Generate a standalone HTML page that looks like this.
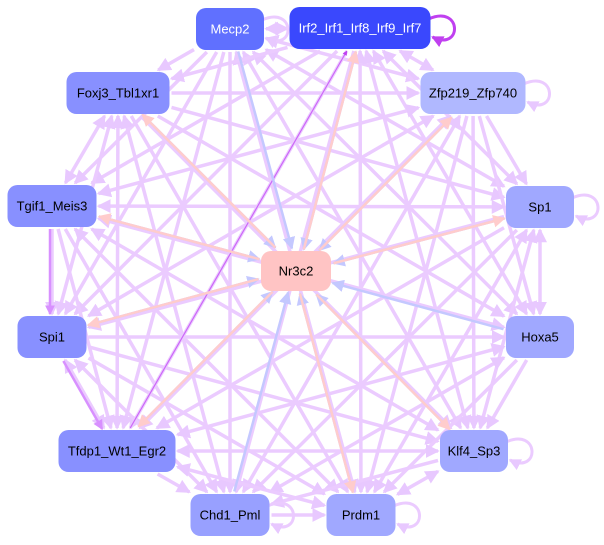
<!DOCTYPE html>
<html><head><meta charset="utf-8"><style>
html,body{margin:0;padding:0;background:#fff;width:604px;height:545px;overflow:hidden}
svg{display:block}
text{font-family:"Liberation Sans",Arial,sans-serif;font-size:13px}
</style></head><body>
<svg id="g" width="604" height="545" xmlns="http://www.w3.org/2000/svg">
<defs>
<marker id="mL" markerWidth="4" markerHeight="4" refX="3.5" refY="2" orient="auto" markerUnits="strokeWidth"><path d="M0,0L4,2L0,4z" fill="#e8c8ff"/></marker>
<marker id="mLs" markerWidth="4" markerHeight="4" refX="0.5" refY="2" orient="auto" markerUnits="strokeWidth"><path d="M4,0L0,2L4,4z" fill="#e8c8ff"/></marker>
<marker id="mB" markerWidth="5" markerHeight="5" refX="4.5" refY="2.5" orient="auto" markerUnits="strokeWidth"><path d="M0,0L5,2.5L0,5z" fill="#c4c8ff"/></marker>
<marker id="mS" markerWidth="5" markerHeight="5" refX="4.5" refY="2.5" orient="auto" markerUnits="strokeWidth"><path d="M0,0L5,2.5L0,5z" fill="#ffcccc"/></marker>
<marker id="mP" markerWidth="4" markerHeight="4" refX="3.5" refY="2" orient="auto" markerUnits="strokeWidth"><path d="M0,0L4,2L0,4z" fill="#c040f0"/></marker>
<marker id="mM" markerWidth="4" markerHeight="4" refX="3.5" refY="2" orient="auto" markerUnits="strokeWidth"><path d="M0,0L4,2L0,4z" fill="#d890ff"/></marker>
</defs>
<g id="edges"></g>
<g id="nodes"></g>
</svg>
<script>
var N={
Mecp2:[230,29,68,42,'#6070ff','#fff'],
Irf:[360,28,141,42,'#3a48fd','#fff','Irf2_Irf1_Irf8_Irf9_Irf7'],
Foxj3:[118,93,103,42,'#8890ff','#000','Foxj3_Tbl1xr1'],
Zfp:[473,93,105,42,'#b0b8ff','#000','Zfp219_Zfp740'],
Tgif1:[52,206,89,42,'#8890ff','#000','Tgif1_Meis3'],
Sp1:[540,207,68,42,'#a0a8ff','#000'],
Spi1:[52,337,69,42,'#8890ff','#000'],
Hoxa5:[540,337,68,42,'#a0a8ff','#000'],
Tfdp1:[117,451,117,42,'#8890ff','#000','Tfdp1_Wt1_Egr2'],
Klf4:[474,451,68,42,'#a0a8ff','#000','Klf4_Sp3'],
Chd1:[230,515,79,42,'#98a0ff','#000','Chd1_Pml'],
Prdm1:[361,515,69,42,'#a0a8ff','#000'],
Nr3c2:[296,271,70,40,'#ffc4c4','#000']
};
var NS='http://www.w3.org/2000/svg';
function el(t,a,p){var e=document.createElementNS(NS,t);for(var k in a)e.setAttribute(k,a[k]);p.appendChild(e);return e;}
var E=document.getElementById('edges'),G=document.getElementById('nodes');
function bd(n,dx,dy){var hw=n[2]/2+2,hh=n[3]/2+2;return Math.min(dx?hw/Math.abs(dx):1e9,dy?hh/Math.abs(dy):1e9);}
function edge(a,b,col,w,mk,off,mks){var A=N[a],B=N[b];var dx=B[0]-A[0],dy=B[1]-A[1];var L=Math.hypot(dx,dy);var ox=-dy/L*off,oy=dx/L*off;
var t1=bd(A,dx,dy),t2=bd(B,dx,dy);
var at={x1:A[0]+dx*t1+ox,y1:A[1]+dy*t1+oy,x2:B[0]-dx*t2+ox,y2:B[1]-dy*t2+oy,stroke:col,'stroke-width':w,'marker-end':'url(#'+mk+')'};
if(mks)at['marker-start']='url(#'+mks+')';
el('line',at,E);}
var keys=Object.keys(N).filter(function(k){return k!='Nr3c2'});
var c=0;
for(var i=0;i<keys.length;i++)for(var j=i+1;j<keys.length;j++){
 c++;
 edge(keys[i],keys[j],'#ebcbff',3.5,'mL',0,(c%2)?'mLs':null);
}
edge('Spi1','Tfdp1','#d890ff',2.5,'mM',2);edge('Tgif1','Spi1','#d890ff',2.5,'mM',2);
edge('Tfdp1','Irf','#cc66f8',1.2,'mP',0);
keys.forEach(function(k){edge(k,'Nr3c2','#c4c8ff',2.5,'mB',-2);});
['Foxj3','Tgif1','Spi1','Tfdp1','Klf4','Prdm1','Irf','Zfp','Sp1'].forEach(function(k){edge('Nr3c2',k,'#ffcccc',2.5,'mS',2);});
function loop(k,col,mk,w){var n=N[k];var x=n[0]+n[2]/2,y=n[1];
el('path',{d:'M'+(x-2)+','+(y-9)+' C'+(x+32)+','+(y-24)+' '+(x+32)+','+(y+24)+' '+(x+2)+','+(y+9),fill:'none',stroke:col,'stroke-width':w,'marker-end':'url(#'+mk+')'},E);}
loop('Irf','#c040f0','mP',3);['Zfp','Sp1','Klf4','Prdm1','Chd1','Mecp2'].forEach(function(k){loop(k,'#ebcbff','mL',3);});
for(var k in N){var n=N[k];
el('rect',{x:n[0]-n[2]/2,y:n[1]-n[3]/2,width:n[2],height:n[3],rx:10,ry:10,fill:n[4]},G);
var t=el('text',{x:n[0],y:n[1]+4.5,'text-anchor':'middle',fill:n[5]},G);t.textContent=n[6]||k;}
</script>
</body></html>
